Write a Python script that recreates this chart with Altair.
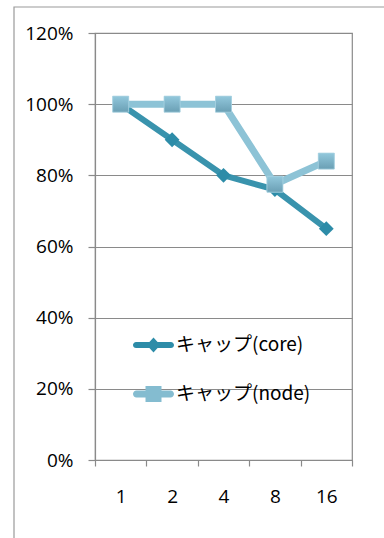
import altair as alt
import pandas as pd

# Series values (share of baseline) for each node count
categories = ["1", "2", "4", "8", "16"]
core_values = [1.00, 0.90, 0.80, 0.76, 0.65]
node_values = [1.00, 1.00, 1.00, 0.775, 0.84]
series_names = ["キャップ(core)", "キャップ(node)"]
y_ticks = [0, 0.2, 0.4, 0.6, 0.8, 1.0, 1.2]

CORE_LINE = "#3993ad"
CORE_MARK = "#2d8ca8"
NODE_LINE = "#8dc3d6"
NODE_MARK = "#84bcd0"
GRID = "#8a8a8a"

core_df = pd.DataFrame({"n": categories, "v": core_values, "series": series_names[0]})
node_df = pd.DataFrame({"n": categories, "v": node_values, "series": series_names[1]})

x_enc = alt.X(
    "n:N",
    sort=categories,
    scale=alt.Scale(paddingInner=0, paddingOuter=0),
    axis=alt.Axis(title=None, labelAngle=0, tickBand="extent", tickSize=6,
                  labelPadding=21, grid=False),
)
y_enc = alt.Y(
    "v:Q",
    scale=alt.Scale(domain=[0, 1.2], nice=False, zero=True),
    axis=alt.Axis(title=None, values=y_ticks, format=".0%", tickSize=7,
                  labelPadding=15, grid=True),
)

# legend symbols: a rounded line with the marker in the middle
core_symbol = ("M-0.85,-0.15 L-0.2,-0.15 L0,-0.36 L0.2,-0.15 L0.85,-0.15 "
               "A0.15,0.15 0 0 1 0.85,0.15 L0.2,0.15 L0,0.36 L-0.2,0.15 "
               "L-0.85,0.15 A0.15,0.15 0 0 1 -0.85,-0.15 Z")
node_symbol = ("M-0.83,-0.17 L-0.39,-0.17 L-0.39,-0.39 L0.39,-0.39 L0.39,-0.17 "
               "L0.83,-0.17 A0.17,0.17 0 0 1 0.83,0.17 L0.39,0.17 L0.39,0.39 "
               "L-0.39,0.39 L-0.39,0.17 L-0.83,0.17 A0.17,0.17 0 0 1 -0.83,-0.17 Z")


def legend_for(symbol, ypos):
    return alt.Legend(
        title=None, orient="none", legendX=38, legendY=ypos, padding=0,
        symbolType=symbol, symbolSize=1681, symbolStrokeWidth=0,
        labelFont="Noto Sans CJK JP", labelFontSize=19, labelColor="#000000",
        labelOffset=2, labelLimit=300,
    )


core_line = alt.Chart(core_df).mark_line(color=CORE_LINE, strokeWidth=6).encode(x=x_enc, y=y_enc)
core_pts = alt.Chart(core_df).mark_point(filled=True, shape="diamond", size=220, opacity=1).encode(
    x=x_enc, y=y_enc,
    color=alt.Color("series:N", scale=alt.Scale(domain=[series_names[0]], range=[CORE_MARK]),
                    legend=legend_for(core_symbol, 291.5)),
)

node_line = alt.Chart(node_df).mark_line(color=NODE_LINE, strokeWidth=7).encode(x=x_enc, y=y_enc)
node_pts = alt.Chart(node_df).mark_point(filled=True, shape="square", size=256, opacity=1).encode(
    x=x_enc, y=y_enc,
    color=alt.Color("series:N", scale=alt.Scale(domain=[series_names[1]], range=[NODE_MARK]),
                    legend=legend_for(node_symbol, 340.5)),
)
node_shade = alt.Chart(node_df).mark_point(
    filled=True, shape="square", size=256, opacity=1,
    fill=alt.LinearGradient(
        gradient="linear", x1=0, x2=0, y1=0, y2=1,
        stops=[alt.GradientStop(color="#92c8dc", offset=0),
               alt.GradientStop(color="#6a9fb4", offset=1)],
    ),
    stroke="#a9d3e2", strokeWidth=0.8,
).encode(x=x_enc, y=y_enc)

# outer chart-area frame
frame = alt.Chart(pd.DataFrame({"a": [0]})).mark_rect(
    fill=None, stroke="#9a9a9a", strokeWidth=1.2
).encode(x=alt.value(-81), x2=alt.value(420), y=alt.value(-26), y2=alt.value(600))

chart = (
    alt.layer(frame, core_line, core_pts, node_line, node_pts, node_shade)
    .resolve_scale(color="independent")
    .properties(
        width=257, height=427,
        autosize=alt.AutoSizeParams(type="none"),
        padding={"left": 95, "top": 33, "right": 32, "bottom": 78},
        background="#ffffff",
    )
    .configure_view(stroke=GRID, strokeWidth=1.2)
    .configure_axis(
        domainColor=GRID, domainWidth=1.2, tickColor=GRID, tickWidth=1.2,
        gridColor=GRID, gridWidth=1.2, gridOpacity=1,
        labelFont="Open Sans", labelFontSize=19, labelColor="#000000",
    )
)

chart.save("out.html", embed_options={"renderer": "svg", "actions": False})
